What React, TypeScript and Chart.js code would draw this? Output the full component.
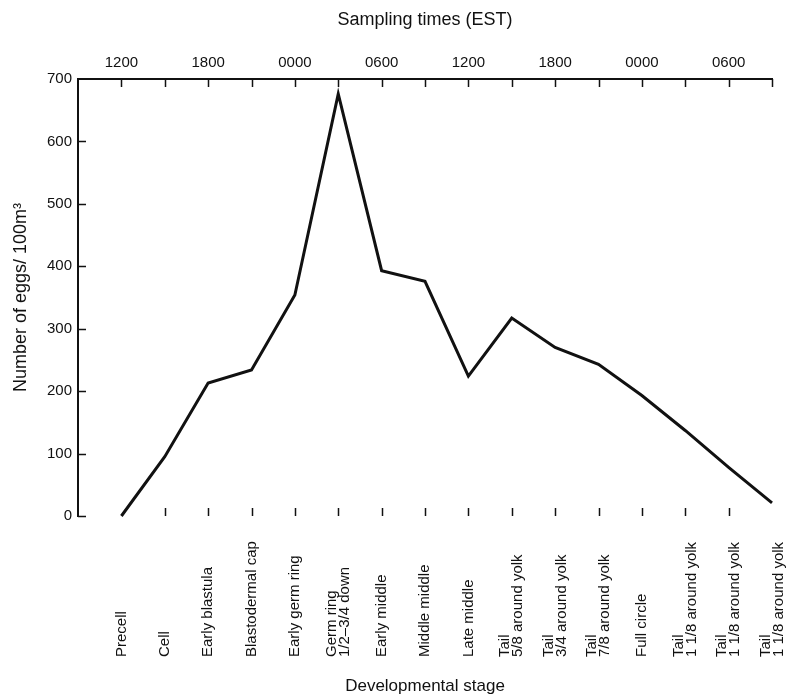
import React, { useEffect, useRef } from "react";
import { Chart, registerables } from "chart.js";

Chart.register(...registerables);

// Developmental stage of the eggs in each sample (multi-line labels as arrays)
const stageLabels: string[][] = [
  ["Precell"],
  ["Cell"],
  ["Early blastula"],
  ["Blastodermal cap"],
  ["Early germ ring"],
  ["Germ ring", "1/2–3/4 down"],
  ["Early middle"],
  ["Middle middle"],
  ["Late middle"],
  ["Tail", "5/8 around yolk"],
  ["Tail", "3/4 around yolk"],
  ["Tail", "7/8 around yolk"],
  ["Full circle"],
  ["Tail", "1 1/8 around yolk"],
  ["Tail", "1 1/8 around yolk"],
  ["Tail", "1 1/8 around yolk"],
];

// Egg density (number of eggs per 100 m³) at each stage
const eggCounts: number[] = [0, 95, 213, 234, 354, 676, 393, 376, 224, 317, 270, 243, 193, 137, 78, 21];

// Sampling times (EST), labelled on every second 3-hourly tick
const samplingTimes: string[] = ["1200", "1800", "0000", "0600", "1200", "1800", "0000", "0600"];

// Y-axis tick values
const yTicks: number[] = [0, 100, 200, 300, 400, 500, 600, 700];

const FONT = "'Liberation Sans', Arial, Helvetica, sans-serif";
const INK = "#111";

const inwardTicks = {
  id: "inwardTicks",
  afterDraw(chart: any) {
    const { ctx, chartArea, scales } = chart;
    const x = scales.x;
    const x2 = scales.x2;
    const y = scales.y;
    const len = 8;
    ctx.save();
    ctx.strokeStyle = INK;
    ctx.lineWidth = 1.5;
    ctx.beginPath();
    // y-axis ticks pointing into the plot
    yTicks.slice(0, -1).forEach((v) => {
      const py = Math.round(y.getPixelForValue(v)) + 0.5;
      ctx.moveTo(chartArea.left, py);
      ctx.lineTo(chartArea.left + len, py);
    });
    // top (time) axis ticks pointing down
    stageLabels.forEach((_, i) => {
      const px = Math.round(x2.getPixelForValue(i)) + 0.5;
      ctx.moveTo(px, chartArea.top);
      ctx.lineTo(px, chartArea.top + len);
    });
    // bottom (stage) ticks pointing up, interior stages only
    stageLabels.forEach((_, i) => {
      if (i === 0 || i === stageLabels.length - 1) return;
      const px = Math.round(x.getPixelForValue(i)) + 0.5;
      ctx.moveTo(px, chartArea.bottom);
      ctx.lineTo(px, chartArea.bottom - len);
    });
    ctx.stroke();

    // stage labels, rotated and aligned on a common baseline
    ctx.fillStyle = INK;
    ctx.font = `15px ${FONT}`;
    ctx.textAlign = "left";
    ctx.textBaseline = "middle";
    const lineH = 13;
    const startY = 657;
    stageLabels.forEach((lines, i) => {
      const px = x.getPixelForValue(i);
      ctx.save();
      ctx.translate(px, startY);
      ctx.rotate(-Math.PI / 2);
      lines.forEach((t, k) => {
        ctx.fillText(t, 0, (k - (lines.length - 1) / 2) * lineH);
      });
      ctx.restore();
    });
    ctx.restore();
  },
};

export default function App() {
  const canvasRef = useRef<HTMLCanvasElement | null>(null);

  useEffect(() => {
    const canvas = canvasRef.current;
    if (!canvas) return;
    Chart.defaults.font.family = FONT;
    Chart.defaults.color = INK;

    const chart = new Chart(canvas, {
      type: "line",
      data: {
        datasets: [
          {
            data: eggCounts.map((v, i) => ({ x: i, y: v })),
            borderColor: INK,
            borderWidth: 3,
            pointRadius: 0,
            tension: 0,
            fill: false,
            clip: false,
            borderJoinStyle: "miter",
          },
        ],
      },
      options: {
        animation: false,
        responsive: false,
        layout: { padding: { left: 0, right: 14, top: 0, bottom: 0 } },
        plugins: { legend: { display: false }, tooltip: { enabled: false } },
        scales: {
          x: {
            type: "linear",
            position: "bottom",
            min: -1,
            max: stageLabels.length - 1,
            grid: { display: false, drawTicks: false },
            border: { display: false },
            ticks: { display: false },
            title: {
              display: true,
              text: "Developmental stage",
              font: { size: 17 },
              padding: { top: 0, bottom: 3 },
            },
            afterFit: (s: any) => {
              s.height = 184;
            },
          },
          x2: {
            type: "linear",
            position: "top",
            min: -1,
            max: stageLabels.length - 1,
            grid: { display: false, drawTicks: false },
            border: { display: true, color: INK, width: 2 },
            ticks: {
              stepSize: 1,
              autoSkip: false,
              maxRotation: 0,
              padding: 7,
              font: { size: 15 },
              callback: (v: any) => {
                const n = Number(v);
                return n >= 0 && n % 2 === 0 ? samplingTimes[n / 2] : "";
              },
            },
            title: {
              display: true,
              text: "Sampling times (EST)",
              font: { size: 18 },
              padding: { top: 9, bottom: 0 },
            },
            afterFit: (s: any) => {
              s.height = 79;
            },
          },
          y: {
            type: "linear",
            min: 0,
            max: 700,
            grid: { display: false, drawTicks: false },
            border: { display: true, color: INK, width: 2 },
            ticks: {
              stepSize: 100,
              padding: 6,
              font: { size: 15 },
            },
            title: {
              display: true,
              text: "Number of eggs/ 100m³",
              font: { size: 18 },
              padding: { top: 10, bottom: 0 },
            },
            afterFit: (s: any) => {
              s.width = 78;
            },
          },
        },
      },
      plugins: [inwardTicks],
    });

    return () => chart.destroy();
  }, []);

  return (
    <div style={{ position: "fixed", left: 0, top: 0, width: 786, height: 700, background: "#fff" }}>
      <canvas ref={canvasRef} width={786} height={700} />
    </div>
  );
}
